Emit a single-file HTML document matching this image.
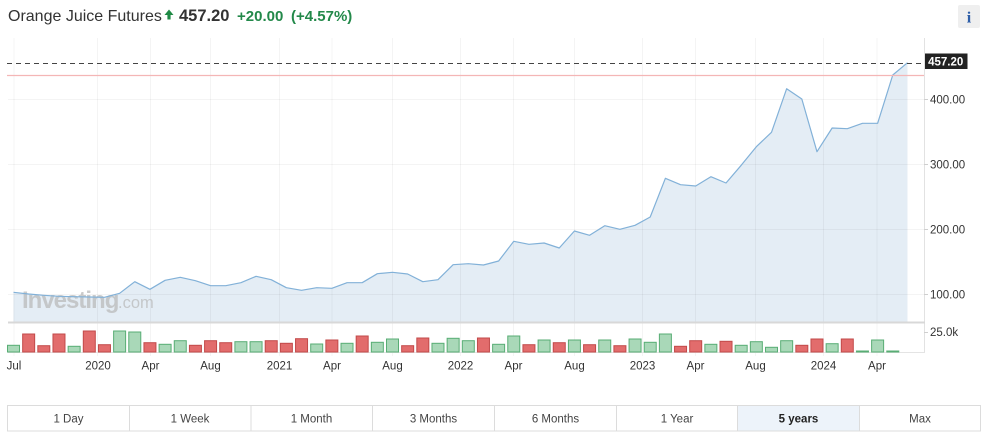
<!DOCTYPE html>
<html><head><meta charset="utf-8"><style>
html,body{margin:0;padding:0;background:#fff;}
body{width:1002px;height:436px;overflow:hidden;}
svg{display:block;}
text{font-family:"Liberation Sans",sans-serif;}
</style></head><body>
<svg width="1002" height="436" viewBox="0 0 1002 436" xmlns="http://www.w3.org/2000/svg">
<!-- header -->
<text x="8" y="21" font-size="16" fill="#333">Orange Juice Futures</text>
<path d="M169 9.5 L173.5 15 L170.6 15 L170.6 19.5 L167.4 19.5 L167.4 15 L164.5 15 Z" fill="#1f8a45"/>
<text x="179" y="21" font-size="16.5" font-weight="bold" fill="#333">457.20</text>
<text x="237" y="21" font-size="15" font-weight="bold" fill="#23894a">+20.00</text>
<text x="291" y="21" font-size="15" font-weight="bold" fill="#23894a">(+4.57%)</text>
<rect x="958" y="5" width="22" height="23" rx="2" fill="#efefef"/>
<text x="969" y="22.5" font-size="16" font-weight="bold" fill="#2d5ea8" text-anchor="middle" style="font-family:'Liberation Serif',serif">i</text>

<!-- area fill -->
<polygon fill="#e4edf5" points="13.5,322 13.5,292.3 28.66,294 43.82,295.3 58.98,296.3 74.14,296.7 89.3,297 104.46,297.3 119.62,293.3 134.78,281.7 149.94,289.3 165.1,280.3 180.26,277.3 195.42,280.7 210.58,285.7 225.74,285.7 240.9,282.7 256.06,276.3 271.22,279.7 286.38,287.7 301.54,290.3 316.7,287.7 331.86,288.3 347.02,282.7 362.18,282.7 377.34,273.7 392.5,272.3 407.66,274 422.82,281.7 437.98,279.7 453.14,264.7 468.3,263.7 483.46,265 498.62,261 513.78,241.3 528.94,244.3 544.1,243 559.26,248 574.42,231 589.58,235.3 604.74,225.7 619.9,229.3 635.06,225.3 650.22,217 665.38,178.3 680.54,184.7 695.7,186 710.86,176.7 726.02,183 741.18,165.3 756.34,146.7 771.5,132.3 786.66,88.7 801.82,99 816.98,151.7 832.14,128 847.3,128.7 862.46,123.3 877.62,123.3 892.78,75 907.5,62.7 907.5,322"/>

<!-- grid -->
<g stroke="#000" stroke-opacity="0.045" stroke-width="1">
<line x1="8" y1="99.5" x2="928" y2="99.5"/>
<line x1="8" y1="164.5" x2="928" y2="164.5"/>
<line x1="8" y1="229.5" x2="928" y2="229.5"/>
<line x1="8" y1="294.5" x2="928" y2="294.5"/>
<g>
<line x1="14" y1="38" x2="14" y2="356"/>
<line x1="97.5" y1="38" x2="97.5" y2="356"/>
<line x1="150.5" y1="38" x2="150.5" y2="356"/>
<line x1="210.5" y1="38" x2="210.5" y2="356"/>
<line x1="279.5" y1="38" x2="279.5" y2="356"/>
<line x1="332" y1="38" x2="332" y2="356"/>
<line x1="392.5" y1="38" x2="392.5" y2="356"/>
<line x1="460.5" y1="38" x2="460.5" y2="356"/>
<line x1="513.5" y1="38" x2="513.5" y2="356"/>
<line x1="574.5" y1="38" x2="574.5" y2="356"/>
<line x1="642.5" y1="38" x2="642.5" y2="356"/>
<line x1="695.5" y1="38" x2="695.5" y2="356"/>
<line x1="755.5" y1="38" x2="755.5" y2="356"/>
<line x1="823.5" y1="38" x2="823.5" y2="356"/>
<line x1="877" y1="38" x2="877" y2="356"/>
</g>
</g>

<!-- watermark -->
<text x="22" y="308" font-size="24" font-weight="bold" fill="#b9b9b9" fill-opacity="0.75" letter-spacing="-1">Investing</text>
<text x="118" y="308" font-size="16.5" fill="#b9b9b9" fill-opacity="0.75">.com</text>

<!-- line -->
<polyline fill="none" stroke="#82b1d8" stroke-width="1.2" stroke-linejoin="round" points="13.5,292.3 28.66,294 43.82,295.3 58.98,296.3 74.14,296.7 89.3,297 104.46,297.3 119.62,293.3 134.78,281.7 149.94,289.3 165.1,280.3 180.26,277.3 195.42,280.7 210.58,285.7 225.74,285.7 240.9,282.7 256.06,276.3 271.22,279.7 286.38,287.7 301.54,290.3 316.7,287.7 331.86,288.3 347.02,282.7 362.18,282.7 377.34,273.7 392.5,272.3 407.66,274 422.82,281.7 437.98,279.7 453.14,264.7 468.3,263.7 483.46,265 498.62,261 513.78,241.3 528.94,244.3 544.1,243 559.26,248 574.42,231 589.58,235.3 604.74,225.7 619.9,229.3 635.06,225.3 650.22,217 665.38,178.3 680.54,184.7 695.7,186 710.86,176.7 726.02,183 741.18,165.3 756.34,146.7 771.5,132.3 786.66,88.7 801.82,99 816.98,151.7 832.14,128 847.3,128.7 862.46,123.3 877.62,123.3 892.78,75 907.5,62.7"/>

<!-- reference lines -->
<line x1="7" y1="75.5" x2="924" y2="75.5" stroke="#f4b6b6" stroke-width="1.2"/>
<line x1="7" y1="63.5" x2="924" y2="63.5" stroke="#444" stroke-width="1" stroke-dasharray="5,4"/>
<rect x="924" y="53.5" width="43.5" height="15.5" fill="#222"/>
<text x="945.7" y="65.5" font-size="11.5" font-weight="bold" fill="#fff" text-anchor="middle">457.20</text>

<!-- frame -->
<line x1="924.5" y1="38" x2="924.5" y2="353" stroke="#e2e2e2" stroke-width="1"/>
<line x1="8" y1="322.5" x2="925" y2="322.5" stroke="#d8d8d8" stroke-width="2"/>
<line x1="8" y1="352.5" x2="925" y2="352.5" stroke="#e4e4e4" stroke-width="1"/>
<g stroke="#cfcfcf" stroke-width="1">
<line x1="924" y1="99.5" x2="928" y2="99.5"/>
<line x1="924" y1="164.5" x2="928" y2="164.5"/>
<line x1="924" y1="229.5" x2="928" y2="229.5"/>
<line x1="924" y1="294.5" x2="928" y2="294.5"/>
<line x1="924" y1="332.5" x2="928" y2="332.5"/>
</g>

<!-- price labels -->
<g font-size="11.5" fill="#333">
<text x="930" y="103.5">400.00</text>
<text x="930" y="168.5">300.00</text>
<text x="930" y="233.5">200.00</text>
<text x="930" y="298.5">100.00</text>
<text x="930" y="336">25.0k</text>
</g>

<!-- volume bars -->
<g stroke-width="1">
<g fill="#e26c6c" stroke="#c24a4a">
<rect x="22.66" y="334" width="12" height="18"/>
<rect x="37.82" y="345.7" width="12" height="6.3"/>
<rect x="52.98" y="334" width="12" height="18"/>
<rect x="83.3" y="331" width="12" height="21"/>
<rect x="98.46" y="344.7" width="12" height="7.3"/>
<rect x="143.94" y="342.7" width="12" height="9.3"/>
<rect x="189.42" y="345.3" width="12" height="6.7"/>
<rect x="204.58" y="340.7" width="12" height="11.3"/>
<rect x="219.74" y="342.7" width="12" height="9.3"/>
<rect x="265.22" y="340.7" width="12" height="11.3"/>
<rect x="280.38" y="343.3" width="12" height="8.7"/>
<rect x="295.54" y="338.7" width="12" height="13.3"/>
<rect x="325.86" y="340" width="12" height="12"/>
<rect x="356.18" y="336" width="12" height="16"/>
<rect x="401.66" y="345.7" width="12" height="6.3"/>
<rect x="416.82" y="338" width="12" height="14"/>
<rect x="477.46" y="338" width="12" height="14"/>
<rect x="522.94" y="344.7" width="12" height="7.3"/>
<rect x="553.26" y="342.7" width="12" height="9.3"/>
<rect x="583.58" y="344.7" width="12" height="7.3"/>
<rect x="613.9" y="345.7" width="12" height="6.3"/>
<rect x="674.54" y="346.3" width="12" height="5.7"/>
<rect x="689.7" y="340.7" width="12" height="11.3"/>
<rect x="720.02" y="341.3" width="12" height="10.7"/>
<rect x="795.82" y="345.3" width="12" height="6.7"/>
<rect x="810.98" y="339" width="12" height="13"/>
<rect x="841.3" y="339" width="12" height="13"/>
</g>
<g fill="#a9d8b8" stroke="#58ad74">
<rect x="7.5" y="345.3" width="12" height="6.7"/>
<rect x="68.14" y="346.3" width="12" height="5.7"/>
<rect x="113.62" y="331" width="12" height="21"/>
<rect x="128.78" y="332" width="12" height="20"/>
<rect x="159.1" y="344.3" width="12" height="7.7"/>
<rect x="174.26" y="340.7" width="12" height="11.3"/>
<rect x="234.9" y="341.7" width="12" height="10.3"/>
<rect x="250.06" y="341.7" width="12" height="10.3"/>
<rect x="310.7" y="344" width="12" height="8"/>
<rect x="341.02" y="343.3" width="12" height="8.7"/>
<rect x="371.34" y="342.3" width="12" height="9.7"/>
<rect x="386.5" y="339" width="12" height="13"/>
<rect x="431.98" y="343.3" width="12" height="8.7"/>
<rect x="447.14" y="338.3" width="12" height="13.7"/>
<rect x="462.3" y="340.7" width="12" height="11.3"/>
<rect x="492.62" y="344.3" width="12" height="7.7"/>
<rect x="507.78" y="336" width="12" height="16"/>
<rect x="538.1" y="340" width="12" height="12"/>
<rect x="568.42" y="340" width="12" height="12"/>
<rect x="598.74" y="340" width="12" height="12"/>
<rect x="629.06" y="339" width="12" height="13"/>
<rect x="644.22" y="342.3" width="12" height="9.7"/>
<rect x="659.38" y="334" width="12" height="18"/>
<rect x="704.86" y="344.3" width="12" height="7.7"/>
<rect x="735.18" y="345.3" width="12" height="6.7"/>
<rect x="750.34" y="341.7" width="12" height="10.3"/>
<rect x="765.5" y="347.3" width="12" height="4.7"/>
<rect x="780.66" y="340.7" width="12" height="11.3"/>
<rect x="826.14" y="343.7" width="12" height="8.3"/>
<rect x="856.46" y="351" width="12" height="1"/>
<rect x="871.62" y="340" width="12" height="12"/>
<rect x="886.78" y="351" width="12" height="1"/>
</g>
</g>

<!-- x axis labels -->
<g font-size="11.5" fill="#333" text-anchor="middle">
<text x="14" y="369.5">Jul</text>
<text x="98" y="369.5">2020</text>
<text x="150.5" y="369.5">Apr</text>
<text x="210.5" y="369.5">Aug</text>
<text x="279.5" y="369.5">2021</text>
<text x="332" y="369.5">Apr</text>
<text x="392.5" y="369.5">Aug</text>
<text x="460.5" y="369.5">2022</text>
<text x="513.5" y="369.5">Apr</text>
<text x="574.5" y="369.5">Aug</text>
<text x="642.5" y="369.5">2023</text>
<text x="695.5" y="369.5">Apr</text>
<text x="755.5" y="369.5">Aug</text>
<text x="823.5" y="369.5">2024</text>
<text x="877" y="369.5">Apr</text>
</g>

<!-- range buttons -->
<rect x="738" y="406" width="121.7" height="25" fill="#edf3fa"/>
<rect x="7.5" y="405.5" width="973" height="25.5" fill="none" stroke="#dcdcdc" stroke-width="1"/>
<g stroke="#dcdcdc" stroke-width="1">
<line x1="129.5" y1="406" x2="129.5" y2="431"/>
<line x1="251" y1="406" x2="251" y2="431"/>
<line x1="372.5" y1="406" x2="372.5" y2="431"/>
<line x1="494.5" y1="406" x2="494.5" y2="431"/>
<line x1="616.5" y1="406" x2="616.5" y2="431"/>
<line x1="737.5" y1="406" x2="737.5" y2="431"/>
<line x1="859.5" y1="406" x2="859.5" y2="431"/>
</g>
<g font-size="11.5" fill="#444" text-anchor="middle">
<text x="68.5" y="422.5">1 Day</text>
<text x="190" y="422.5">1 Week</text>
<text x="311.5" y="422.5">1 Month</text>
<text x="433.5" y="422.5">3 Months</text>
<text x="555.5" y="422.5">6 Months</text>
<text x="677" y="422.5">1 Year</text>
<text x="798.5" y="422.5" font-weight="bold" fill="#222">5 years</text>
<text x="920" y="422.5">Max</text>
</g>
</svg>
</body></html>
